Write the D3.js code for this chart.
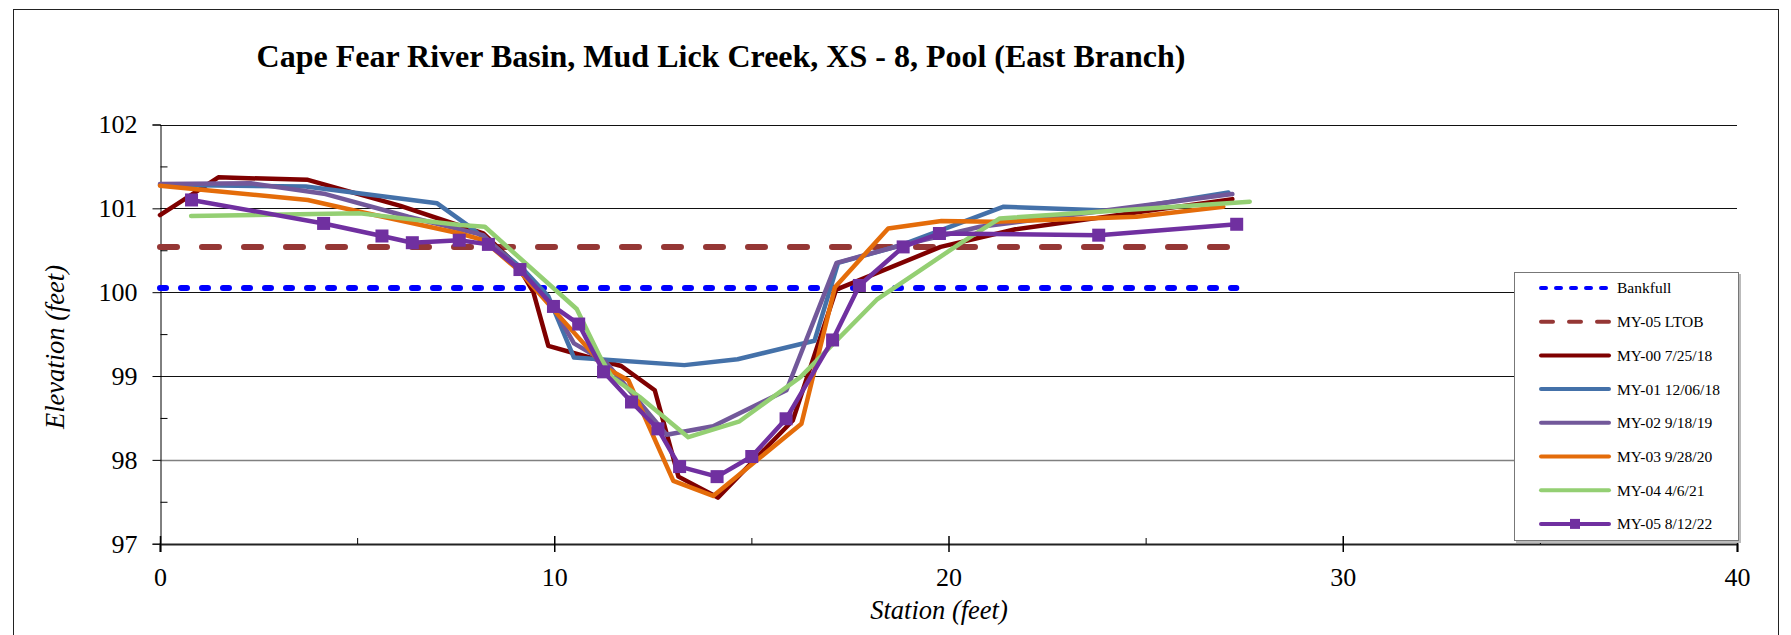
<!DOCTYPE html>
<html>
<head>
<meta charset="utf-8">
<script src="https://cdn.jsdelivr.net/npm/d3@7"></script>
<style>
  body { margin: 0; background: #fff; }
  svg text { font-family: "Liberation Serif", "Times New Roman", serif; fill: #000; }
</style>
</head>
<body>
<svg id="chart"></svg>
<script>
// station (ft), elevation (ft)
var bankfull = [[0, 100.05], [27.3, 100.05]]
var ltob = [[0, 100.54], [27.1, 100.54]]
var my00 = [[0, 100.92], [1.48, 101.37], [3.75, 101.34], [6.1, 101.03], [8.2, 100.7], [9.1, 100.3], [9.47, 100.0], [9.85, 99.36], [10.6, 99.26], [11.7, 99.12], [12.55, 98.83], [13.15, 97.8], [14.15, 97.55], [16.05, 98.47], [17.15, 100.03], [19.8, 100.54], [21.7, 100.75], [27.2, 101.11]]
var my01 = [[0, 101.28], [3.7, 101.26], [7.03, 101.06], [7.8, 100.8], [9.2, 100.28], [9.85, 99.95], [10.5, 99.22], [13.3, 99.13], [14.65, 99.2], [16.6, 99.42], [17.2, 100.35], [18.8, 100.56], [21.4, 101.02], [24.2, 100.97], [27.1, 101.19]]
var my02 = [[0, 101.29], [2.3, 101.3], [4.2, 101.17], [6.3, 100.9], [8.2, 100.68], [9.1, 100.28], [10.0, 99.8], [10.5, 99.39], [11.3, 99.17], [12.85, 98.3], [14.03, 98.4], [15.89, 98.83], [17.16, 100.35], [18.8, 100.56], [20.8, 100.78], [27.2, 101.17]]
var my03 = [[0, 101.27], [3.75, 101.1], [5.07, 100.96], [7.61, 100.7], [8.2, 100.62], [9.1, 100.26], [10.0, 99.78], [11.3, 99.1], [11.88, 98.95], [13.02, 97.75], [14.03, 97.57], [16.27, 98.43], [17.12, 100.06], [18.47, 100.76], [19.82, 100.85], [21.13, 100.84], [24.77, 100.9], [26.97, 101.02]]
var my04 = [[0.79, 100.91], [5.07, 100.94], [7.61, 100.8], [8.24, 100.78], [10.57, 99.8], [11.16, 99.23], [11.46, 98.99], [12.17, 98.75], [13.4, 98.27], [14.7, 98.46], [16.25, 98.99], [18.18, 99.91], [20.29, 100.58], [21.3, 100.88], [27.64, 101.08]]
var my05 = [[0.8, 101.1], [4.15, 100.82], [5.63, 100.67], [6.4, 100.59], [7.59, 100.62], [8.33, 100.57], [9.13, 100.27], [9.98, 99.83], [10.62, 99.62], [11.25, 99.05], [11.96, 98.69], [12.63, 98.37], [13.18, 97.92], [14.13, 97.8], [15.01, 98.04], [15.88, 98.49], [17.06, 99.43], [17.74, 100.08], [18.85, 100.54], [19.77, 100.7], [23.81, 100.68], [27.31, 100.81]]

var seriesNames = ["Bankfull", "MY-05 LTOB", "MY-00 7/25/18", "MY-01 12/06/18", "MY-02 9/18/19", "MY-03 9/28/20", "MY-04 4/6/21", "MY-05 8/12/22"]
var seriesData = [bankfull, ltob, my00, my01, my02, my03, my04, my05]
var seriesColors = ["#0000ff", "#953735", "#7f0000", "#4471a9", "#72589a", "#e46c0a", "#94cf73", "#7030a0"]

var xTicks = [0, 10, 20, 30, 40]
var xMinor = [5, 15, 25, 35]
var yTicks = [97, 98, 99, 100, 101, 102]
var yMinor = [97.5, 98.5, 99.5, 100.5, 101.5]

var title = "Cape Fear River Basin, Mud Lick Creek, XS - 8, Pool (East Branch)"

var W = 1791, H = 635
var svg = d3.select("#chart").attr("width", W).attr("height", H)

// outer chart frame
svg.append("rect").attr("x", 13.5).attr("y", 9.5).attr("width", 1765).attr("height", 700)
  .attr("fill", "#fff").attr("stroke", "#222").attr("stroke-width", 1)

var x = d3.scaleLinear().domain([0, 40]).range([160, 1737])
var y = d3.scaleLinear().domain([97, 102]).range([543.7, 124.5])

// gridlines
svg.append("g")
  .selectAll("line")
  .data(yTicks.slice(1))
  .enter()
  .append("line")
  .attr("x1", x(0)).attr("x2", x(40))
  .attr("y1", function(d){ return Math.round(y(d)) + 0.5 })
  .attr("y2", function(d){ return Math.round(y(d)) + 0.5 })
  .attr("stroke", function(d){ return d == 98 ? "#808080" : "#111" })
  .attr("stroke-width", function(d){ return d == 98 ? 1.5 : 1 })

// y axis
var yAxis = svg.append("g").attr("transform", "translate(160.5,0)")
  .call(d3.axisLeft(y).tickValues(yTicks).tickSize(8).tickPadding(15).tickFormat(d3.format("d")))
yAxis.select(".domain").attr("stroke", "#000")
yAxis.selectAll("text").attr("font-size", 26).attr("font-family", "Liberation Serif")

svg.append("g").attr("transform", "translate(160.5,0)")
  .call(d3.axisRight(y).tickValues(yMinor).tickSize(7).tickFormat(""))
  .select(".domain").remove()

// x axis
var xAxis = svg.append("g").attr("transform", "translate(0,544)")
  .call(d3.axisBottom(x).tickValues(xTicks).tickSize(8).tickPadding(16).tickFormat(d3.format("d")))
xAxis.select(".domain").attr("stroke", "#222").attr("stroke-width", 2)
xAxis.selectAll("text").attr("font-size", 26).attr("font-family", "Liberation Serif")
xAxis.selectAll("line").attr("stroke-width", 1.5)

svg.append("g").attr("transform", "translate(0,544)")
  .call(d3.axisTop(x).tickValues(xTicks).tickSize(8).tickFormat(""))
  .call(function(g){ g.select(".domain").remove(); g.selectAll("line").attr("stroke-width", 1.5) })

svg.append("g").attr("transform", "translate(0,544)")
  .call(d3.axisTop(x).tickValues(xMinor).tickSize(6).tickFormat(""))
  .select(".domain").remove()

// titles
svg.append("text").attr("x", 721).attr("y", 67).attr("text-anchor", "middle")
  .attr("font-size", 32).attr("font-weight", "bold").text(title)

svg.append("text").attr("x", 939).attr("y", 619).attr("text-anchor", "middle")
  .attr("font-size", 26.5).attr("font-style", "italic").text("Station (feet)")

svg.append("text").attr("transform", "translate(64,347) rotate(-90)").attr("text-anchor", "middle")
  .attr("font-size", 26.5).attr("font-style", "italic").text("Elevation (feet)")

// series
var line = d3.line().x(function(d){ return x(d[0]) }).y(function(d){ return y(d[1]) })

var dashes = ["6,15", "17,25"]
seriesData.forEach(function(data, i){
  svg.append("path")
    .datum(data)
    .attr("d", line)
    .attr("fill", "none")
    .attr("stroke", seriesColors[i])
    .attr("stroke-width", i < 2 ? 6 : 4.5)
    .attr("stroke-linejoin", "round")
    .attr("stroke-linecap", "round")
    .attr("stroke-dasharray", i < 2 ? dashes[i] : null)
})

svg.append("g")
  .selectAll("rect")
  .data(my05)
  .enter()
  .append("rect")
  .attr("x", function(d){ return x(d[0]) - 6.5 })
  .attr("y", function(d){ return y(d[1]) - 6.5 })
  .attr("width", 13).attr("height", 13)
  .attr("fill", seriesColors[7])

// legend
var lg = svg.append("g")
lg.append("rect").attr("x", 1516).attr("y", 274).attr("width", 225).attr("height", 269).attr("fill", "#bbb")
lg.append("rect").attr("x", 1514.5).attr("y", 272.5).attr("width", 224).attr("height", 268)
  .attr("fill", "#fff").attr("stroke", "#777").attr("stroke-width", 1)

var legendDash = ["5,10", "12,16"]
seriesNames.forEach(function(name, i){
  var ly = 288 + i * 33.7
  lg.append("line")
    .attr("x1", 1541).attr("x2", 1609).attr("y1", ly).attr("y2", ly)
    .attr("stroke", seriesColors[i])
    .attr("stroke-width", 4)
    .attr("stroke-linecap", "round")
    .attr("stroke-dasharray", i < 2 ? legendDash[i] : null)
  if (i == 7) {
    lg.append("rect").attr("x", 1570).attr("y", ly - 5).attr("width", 10).attr("height", 10).attr("fill", seriesColors[i])
  }
  lg.append("text").attr("x", 1617).attr("y", ly).attr("dy", "0.35em")
    .attr("font-size", 15.5).text(name)
})
</script>
</body>
</html>
